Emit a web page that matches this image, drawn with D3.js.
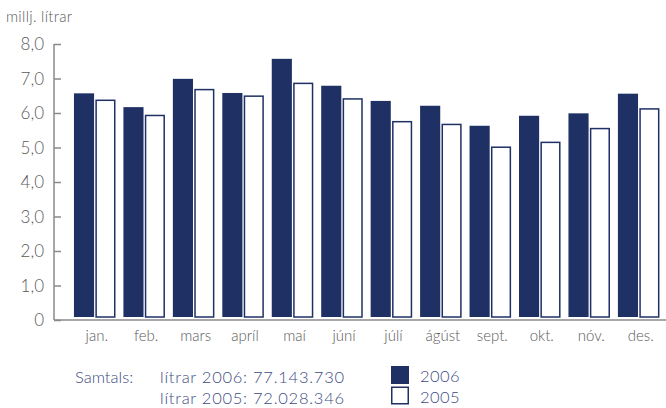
<!DOCTYPE html>
<html><head><meta charset="utf-8">
<script src="https://cdn.jsdelivr.net/npm/d3@7/dist/d3.min.js"></script>
<style>
html,body{margin:0;padding:0;background:#fff;}
svg{display:block;font-family:Lato,"Open Sans",sans-serif;font-weight:300;}
</style></head>
<body>
<svg id="c" width="666" height="408"></svg>
<script>
const months = ["jan.","feb.","mars","apríl","maí","júní","júlí","ágúst","sept.","okt.","nóv.","des."];
const series = ["2006","2005"];
const values2006 = [6.57,6.17,6.99,6.58,7.57,6.79,6.35,6.21,5.63,5.92,5.99,6.56];
const values2005 = [6.39,5.95,6.70,6.51,6.88,6.43,5.77,5.69,5.03,5.17,5.57,6.14];
const yTicks = [0,1,2,3,4,5,6,7,8];
const yTickLabels = ["0","1,0","2,0","3,0","4,0","5,0","6,0","7,0","8,0"];
const unitLabel = "millj. lítrar";
const totalsLabel = "Samtals:";
const totalsLines = ["lítrar 2006: 77.143.730","lítrar 2005: 72.028.346"];

const navy = "#1f3064", textBlue = "#3d4b82", gray = "#8a8a8a", grayText = "#5a5a5a";
const svg = d3.select("#c");

const y = d3.scaleLinear().domain([0,8]).range([320,44]);
const x = d3.scaleBand().domain(months).range([70,663.4]).paddingInner(0.16).paddingOuter(0.08);
const xs = d3.scaleBand().domain(series).range([0,x.bandwidth()]).paddingInner(0.06);

const data = months.map((m,i)=>({m, v:{"2006":values2006[i],"2005":values2005[i]}}));

// bars
const g = svg.append("g");
const grp = g.selectAll("g.m").data(data).join("g").attr("transform",d=>`translate(${x(d.m)},0)`);
grp.selectAll("rect").data(d=>series.map(s=>({s,v:d.v[s]}))).join("rect")
  .attr("x",d=>xs(d.s)+(d.s==="2005"?0.75:0))
  .attr("width",d=>xs.bandwidth()-(d.s==="2005"?1.5:0))
  .attr("y",d=>y(d.v)+(d.s==="2005"?0.75:0))
  .attr("height",d=>y(0)-3-y(d.v)-(d.s==="2005"?0.75:0))
  .attr("fill",d=>d.s==="2006"?navy:"#fff")
  .attr("stroke",d=>d.s==="2006"?"none":navy)
  .attr("stroke-width",1.5);

// y axis
const ya = svg.append("g").attr("transform","translate(54,0)")
  .call(d3.axisRight(y).tickValues(yTicks).tickSize(7).tickFormat(""));
ya.select(".domain").remove();
ya.selectAll(".tick line").attr("stroke",gray).attr("stroke-width",1.5);
svg.append("line").attr("x1",54).attr("x2",54).attr("y1",y(8)).attr("y2",y(0))
  .attr("stroke",gray).attr("stroke-width",1.5);
svg.append("g").selectAll("text").data(yTicks).join("text")
  .attr("x",44).attr("y",d=>y(d)+6).attr("text-anchor","end")
  .attr("font-size",17).attr("fill",grayText).text((d,i)=>yTickLabels[i]);

// x axis
svg.append("line").attr("x1",54).attr("x2",666).attr("y1",y(0)).attr("y2",y(0))
  .attr("stroke",gray).attr("stroke-width",1.5);
const xa = svg.append("g").attr("transform",`translate(0,${y(0)})`)
  .call(d3.axisBottom(x).tickSize(0).tickPadding(0));
xa.select(".domain").remove();
xa.selectAll(".tick text").attr("font-size",15).attr("fill",grayText)
  .attr("font-family","Lato,'Open Sans',sans-serif").attr("font-weight",300)
  .attr("dy",null).attr("y",21).attr("dx",2);

// unit label
svg.append("text").attr("x",6).attr("y",22).attr("font-size",15).attr("letter-spacing",0.3)
  .attr("fill",grayText).text(unitLabel);

// totals
svg.append("text").attr("x",75).attr("y",383).attr("font-size",16.5).attr("fill",textBlue).text(totalsLabel);
svg.append("g").selectAll("text").data(totalsLines).join("text")
  .attr("x",160).attr("y",(d,i)=>383+i*20.5).attr("font-size",16.5).attr("letter-spacing",0.75)
  .attr("fill",textBlue).text(d=>d);

// legend
const lg = svg.append("g").selectAll("g").data(series).join("g")
  .attr("transform",(d,i)=>`translate(391,${366+i*20.5})`);
lg.append("rect").attr("x",d=>d==="2005"?0.75:0).attr("y",d=>d==="2005"?0.75:0)
  .attr("width",d=>d==="2005"?16.5:18).attr("height",d=>d==="2005"?16.5:18)
  .attr("fill",d=>d==="2006"?navy:"#fff").attr("stroke",d=>d==="2006"?"none":navy).attr("stroke-width",1.5);
lg.append("text").attr("x",29).attr("y",16).attr("font-size",16.5).attr("letter-spacing",0.4)
  .attr("fill",textBlue).text(d=>d);
</script>
</body></html>
